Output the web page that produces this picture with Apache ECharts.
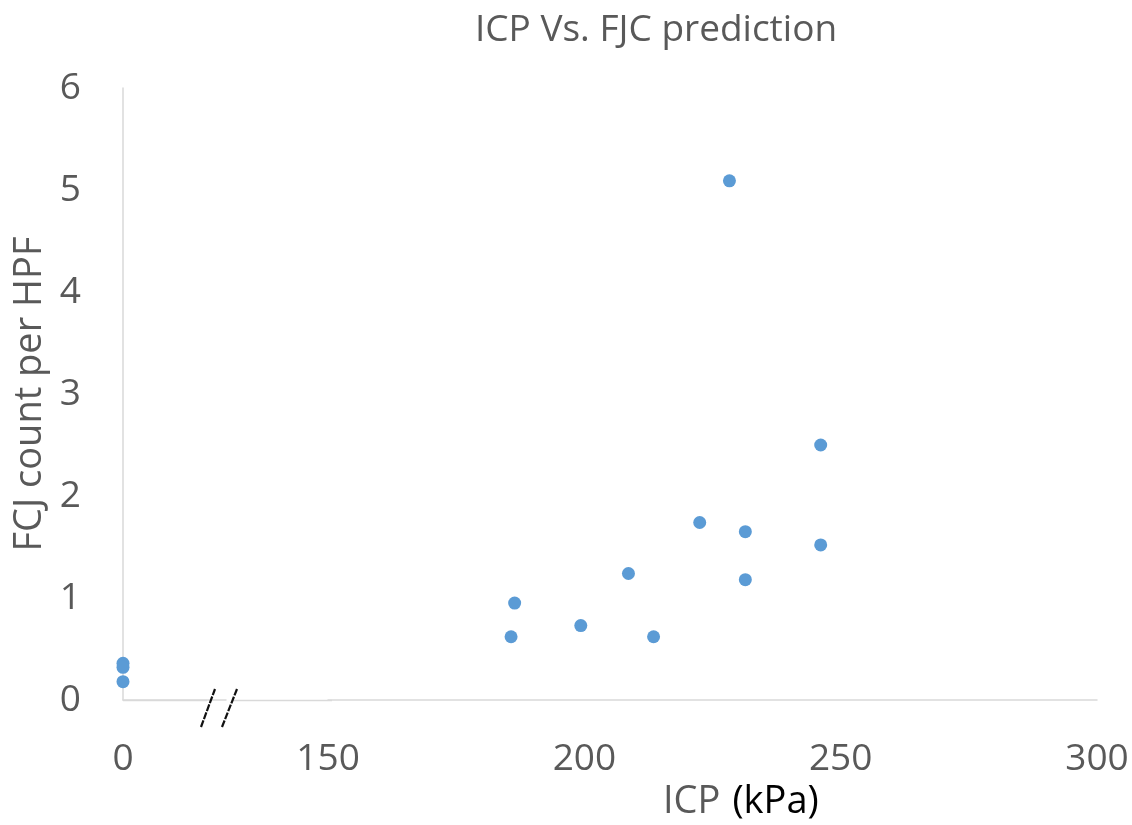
<!DOCTYPE html>
<html>
<head>
<meta charset="utf-8">
<script src="https://cdn.jsdelivr.net/npm/echarts@6/dist/echarts.min.js"></script>
<style>
html,body{margin:0;padding:0;background:#fff;}
#c{width:1132px;height:825px;}
</style>
</head>
<body>
<div id="c"></div>
<script>
// ICP (kPa) values
const icp = [0, 0, 0, 185.7, 186.4, 199.3, 208.6, 213.5, 222.5, 228.3, 231.4, 231.4, 246.1, 246.1];
// FJC count per HPF
const fjc = [0.36, 0.32, 0.18, 0.62, 0.95, 0.73, 1.24, 0.62, 1.74, 5.09, 1.65, 1.18, 2.50, 1.52];
const xTicks = [0, 150, 200, 250, 300];
const yTicks = [0, 1, 2, 3, 4, 5, 6];

const points = icp.map((x, i) => [x, fjc[i]]);
const FONT = 'Open Sans';
const GREY = '#595959';

const chart = echarts.init(document.getElementById('c'));
chart.setOption({
  backgroundColor: '#fff',
  animation: false,
  title: {
    text: 'ICP Vs. FJC prediction',
    left: 651, top: 7, textAlign: 'center',
    textStyle: {fontFamily: FONT, fontSize: 37, fontWeight: 'normal', color: GREY}
  },
  grid: {left: 123, right: 35, top: 88, bottom: 125, containLabel: false},
  xAxis: {
    type: 'value', min: 0, max: 300,
    breaks: [{start: 20, end: 150, gap: 20}],
    breakArea: {show: false, itemStyle: {opacity: 0, borderWidth: 0}},
    axisLine: {show: true, lineStyle: {color: '#D9D9D9', width: 1.5}},
    axisTick: {show: false},
    splitLine: {show: false},
    axisLabel: {
      customValues: xTicks,
      margin: 41,
      fontFamily: FONT, fontSize: 37, color: GREY
    }
  },
  yAxis: {
    type: 'value', min: 0, max: 6, interval: 1,
    name: 'FCJ count per HPF',
    nameLocation: 'middle', nameGap: 72, nameRotate: 90,
    nameTextStyle: {fontFamily: FONT, fontSize: 38, color: GREY},
    axisLine: {show: true, lineStyle: {color: '#D9D9D9', width: 1.5}},
    axisTick: {show: false},
    splitLine: {show: false},
    axisLabel: {
      customValues: yTicks,
      margin: 42,
      fontFamily: FONT, fontSize: 37, color: GREY
    }
  },
  graphic: [
    // axis line continuation across the break, with a gap between the break marks
    {type: 'line', shape: {x1: 123, y1: 700.5, x2: 207, y2: 700.5}, style: {stroke: '#D9D9D9', lineWidth: 1.5}, z: 100},
    {type: 'line', shape: {x1: 232, y1: 700.5, x2: 332, y2: 700.5}, style: {stroke: '#D9D9D9', lineWidth: 1.5}, z: 100},
    {type: 'line', shape: {x1: 201, y1: 727, x2: 215, y2: 689}, style: {stroke: '#111', lineWidth: 2.2, lineDash: [7, 1.5]}, z: 101},
    {type: 'line', shape: {x1: 222, y1: 727, x2: 237, y2: 689}, style: {stroke: '#111', lineWidth: 2.2, lineDash: [7, 1.5]}, z: 101},
    {
      type: 'text', left: 663, top: 783, z: 100,
      style: {
        text: '{a|ICP}{s| }{b|(kPa)}',
        rich: {
          a: {fontFamily: FONT, fontSize: 38, fill: GREY},
          s: {fontFamily: FONT, fontSize: 38, width: 12},
          b: {fontFamily: FONT, fontSize: 38, fill: '#000'}
        }
      }
    }
  ],
  series: [{
    type: 'scatter',
    data: points,
    symbol: 'circle',
    symbolSize: 13,
    itemStyle: {color: '#5B9BD5', opacity: 1}
  }]
});
</script>
</body>
</html>
